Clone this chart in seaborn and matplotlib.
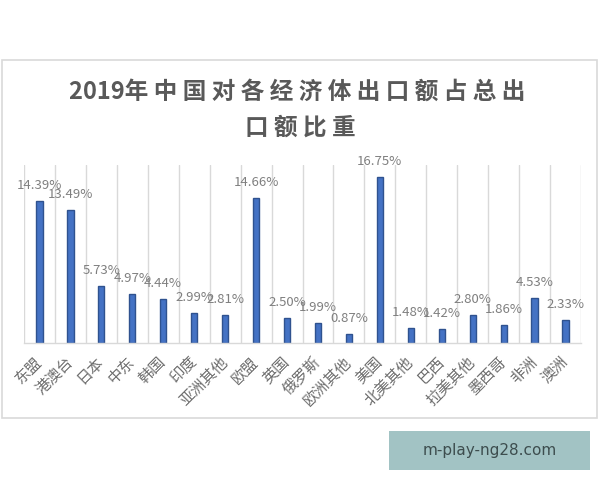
import matplotlib
matplotlib.use("Agg")
import matplotlib.pyplot as plt
from matplotlib.patches import Rectangle
import seaborn as sns
import pandas as pd

categories = ["东盟", "港澳台", "日本", "中东", "韩国", "印度", "亚洲其他", "欧盟", "英国",
              "俄罗斯", "欧洲其他", "美国", "北美其他", "巴西", "拉美其他", "墨西哥", "非洲", "澳洲"]
values = [14.39, 13.49, 5.73, 4.97, 4.44, 2.99, 2.81, 14.66, 2.50,
          1.99, 0.87, 16.75, 1.48, 1.42, 2.80, 1.86, 4.53, 2.33]
title_line1 = "2019年中国对各经济体出口额占总出"
title_line2 = "口额比重"
watermark = "m-play-ng28.com"

sns.set_theme(style="white")
plt.rcParams['font.family'] = ['Noto Sans CJK SC', 'DejaVu Sans']

df = pd.DataFrame({"cat": categories, "val": values})

fig = plt.figure(figsize=(6, 4.8), dpi=100)
fig.patch.set_facecolor("white")

# outer chart frame
fig.patches.append(Rectangle((2/600, 62/480), 595/600, 358/480, transform=fig.transFigure,
                             fill=False, edgecolor="#D9D9D9", linewidth=1.2, zorder=0))

ax = fig.add_axes([24/600, 137/480, 557/600, 178/480])
sns.barplot(data=df, x="cat", y="val", ax=ax, width=0.2, color="#4472C4",
            edgecolor="#2F528F", linewidth=1.0, saturation=1)

ax.set_xlim(-0.5, len(categories) - 0.5)
ax.set_ylim(0, 18)
ax.set_xlabel("")
ax.set_ylabel("")
ax.set_yticks([])

# vertical gridlines at category boundaries
ax.set_xticks([i - 0.5 for i in range(len(categories) + 1)], minor=True)
ax.grid(False)
ax.grid(True, which="minor", axis="x", color="#D9D9D9", linewidth=1.0)
ax.tick_params(axis="x", which="minor", length=0)

for s in ["top", "right", "left"]:
    ax.spines[s].set_visible(False)
ax.spines["bottom"].set_color("#D9D9D9")
ax.spines["bottom"].set_linewidth(1.0)

ax.set_xticks(range(len(categories)))
ax.set_xticklabels(categories, rotation=45, ha="right", va="center",
                   rotation_mode="anchor", fontsize=11, color="#6E6E6E")
ax.tick_params(axis="x", which="major", length=0, pad=12)

for i, v in enumerate(values):
    ax.annotate(f"{v:.2f}%", (i, v), xytext=(0, 9), textcoords="offset pixels",
                ha="center", va="bottom", fontsize=9.5, color="#7F7F7F")

def spaced(s):
    out = ""
    prev_digit = False
    for ch in s:
        if ch.isdigit():
            out += ch
            prev_digit = True
        else:
            out += ch if (prev_digit or out == "") else " " + ch
            prev_digit = False
    return out

fig.text(297/600, 1 - 92/480, spaced(title_line1), ha="center", va="center",
         fontsize=17, fontweight="bold", color="#595959")
fig.text(300/600, 1 - 128/480, spaced(title_line2), ha="center", va="center",
         fontsize=17, fontweight="bold", color="#595959")

# watermark box
fig.patches.append(Rectangle((389/600, 10/480), 201/600, 39/480, transform=fig.transFigure,
                             facecolor="#A2C3C4", edgecolor="none", zorder=0))
fig.text(489.5/600, 1 - 451/480, watermark, ha="center", va="center",
         fontsize=11, color="#3D4D4E", family=["DejaVu Sans"])

fig.savefig("out.png", dpi=100, facecolor="white")
